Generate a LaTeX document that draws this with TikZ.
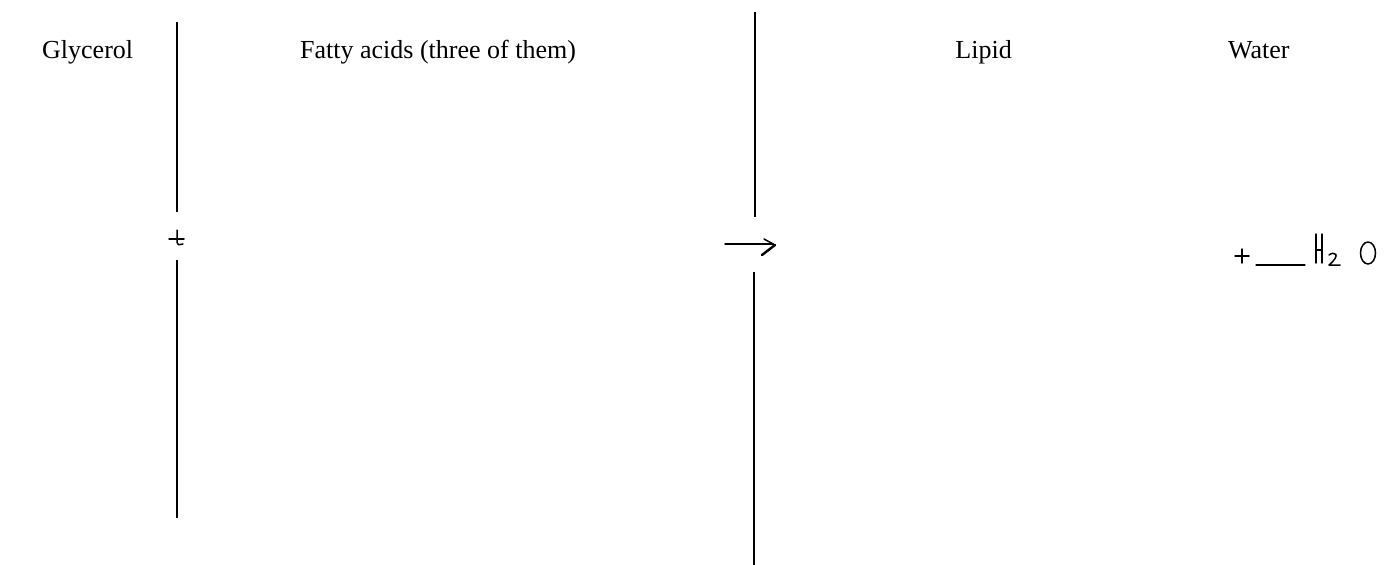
\documentclass[tikz,border=0pt]{standalone}
\usepackage{fontspec}
\setmainfont{Liberation Serif}
\usetikzlibrary{shapes.geometric}
\begin{document}
\begin{tikzpicture}[x=1pt,y=-1pt,
  lbl/.style={anchor=base west, inner sep=0pt, font=\fontsize{26}{30}\selectfont},
  rule/.style={line width=2pt, black},
  pen/.style={line width=1.5pt, black, line cap=round, line join=round}]
\useasboundingbox[fill=white] (0,0) rectangle (1385,565);
% labels
\node[lbl] (gly) at (42,58) {Glycerol};
\node[lbl] (fat) at (300,58) {Fatty acids (three of them)};
\node[lbl, anchor=base east] (lip) at (1012,58) {Lipid};
\node[lbl] (wat) at (1228,58) {Water};
% dividing lines
\coordinate (l1a) at (177,22);  \coordinate (l1b) at (177,212);
\coordinate (l1c) at (177,260); \coordinate (l1d) at (177,518);
\coordinate (m1a) at (755,12);  \coordinate (m1b) at (755,217);
\coordinate (m1c) at (754,272); \coordinate (m1d) at (754,565);
\draw[rule] (l1a) -- (l1b);
\draw[rule] (l1c) -- (l1d);
\draw[rule] (m1a) -- (m1b);
\draw[rule] (m1c) -- (m1d);
% handwritten plus between glycerol and fatty acids (yshift is in canvas units: + is up)
\coordinate (p1) at (177,239);
\draw[pen] ([xshift=-8pt]p1) -- ([xshift=7pt]p1);
\draw[pen] ([yshift=9pt]p1) -- ([yshift=-3pt]p1) .. controls ([xshift=1pt,yshift=-6pt]p1) .. ([xshift=6pt,yshift=-5pt]p1);
% handwritten arrow
\coordinate (aa) at (725,244);
\coordinate (ab) at (773,244);
\draw[pen] (aa) -- (ab);
\draw[pen] ([xshift=-9pt,yshift=5pt]ab) -- ([xshift=2pt,yshift=-1pt]ab);
\draw[pen, line width=2.4pt] ([xshift=2pt,yshift=-1pt]ab) -- ([xshift=-11pt,yshift=-11pt]ab);
% + ___ H2O
\coordinate (wp) at (1242,256);
\draw[pen] ([xshift=-7pt]wp) -- ([xshift=7pt]wp);
\draw[pen] ([yshift=7pt]wp) -- ([yshift=-7pt]wp);
\coordinate (ua) at (1256,265);
\coordinate (ub) at (1305,265);
\draw[pen, line width=1.3pt] (ua) -- (ub);
% H
\coordinate (h0) at (1319,249);
\draw[pen] ([xshift=-3pt,yshift=15pt]h0) -- ([xshift=-3pt,yshift=-14pt]h0);
\draw[pen] ([xshift=3pt,yshift=15pt]h0) -- ([xshift=3pt,yshift=-14pt]h0);
\draw[pen] ([xshift=-3pt,yshift=-1pt]h0) -- ([xshift=3pt,yshift=-1pt]h0);
% subscript 2
\coordinate (t0) at (1334,259);
\draw[pen] ([xshift=-5pt,yshift=4pt]t0) .. controls ([xshift=0pt,yshift=8pt]t0) and ([xshift=8pt,yshift=5pt]t0) .. ([xshift=-5pt,yshift=-6pt]t0) -- ([xshift=6pt,yshift=-6pt]t0);
% O
\node[draw, pen, ellipse, minimum width=15pt, minimum height=22pt, inner sep=0pt] (oo) at (1368,253) {};
\end{tikzpicture}
\end{document}
